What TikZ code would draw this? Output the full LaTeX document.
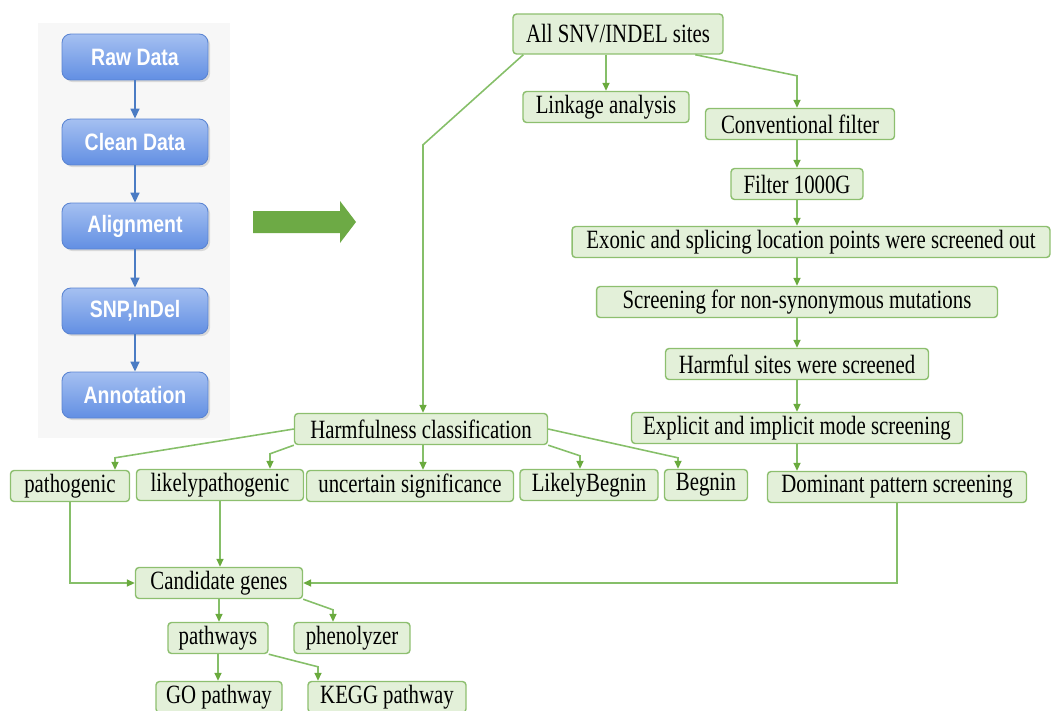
\documentclass[tikz,border=0pt]{standalone}
\usepackage{fontspec}
\setmainfont{Liberation Serif}[FakeStretch=0.79]
\newfontfamily\sansflujo{Liberation Sans}[FakeStretch=0.82]
\usepackage{xcolor}
\definecolor{verdeFondo}{HTML}{E3F0D9}
\definecolor{verdeBorde}{HTML}{8DBF6F}
\definecolor{verdeLinea}{HTML}{86BF69}
\definecolor{verdePunta}{HTML}{6AAA3E}
\definecolor{verdeFlecha}{HTML}{6DAA45}
\definecolor{azulClaro}{HTML}{A5C0F1}
\definecolor{azulOscuro}{HTML}{628FE3}
\definecolor{azulBorde}{HTML}{5A84D2}
\definecolor{azulLinea}{HTML}{4B7CC4}
\definecolor{grisPanel}{HTML}{F7F7F7}
\usepackage{tikz}
\usetikzlibrary{arrows.meta,calc,shadows}

\begin{document}
\begin{tikzpicture}[x=0.02cm, y=-0.02cm,
      caja/.style={rectangle, rounded corners=2pt, draw=verdeBorde, fill=verdeFondo, line width=0.8pt,
                   minimum height=0.62cm, inner sep=1pt, align=center,
                   font=\fontsize{15}{17}\selectfont},
      cajaazul/.style={rectangle, rounded corners=5pt, draw=azulBorde, line width=0.5pt,
                   top color=azulClaro, bottom color=azulOscuro,
                   drop shadow={opacity=0.25, shadow xshift=1.2pt, shadow yshift=-1.2pt},
                   minimum width=2.92cm, minimum height=0.92cm, text=white,
                   font=\sansflujo\bfseries\fontsize{13.5}{15}\selectfont},
      flecha/.style={-{Triangle[length=1.6mm, width=1.4mm, color=verdePunta]}, line width=0.9pt, draw=verdeLinea},
      flechaazul/.style={-{Triangle[length=2mm, width=1.8mm]}, line width=0.9pt, draw=azulLinea}
    ]
    \useasboundingbox (0,0) rectangle (1053,710);

    % panel izquierdo
    \fill[grisPanel] (38,23) rectangle (230,438);
    \node[cajaazul] (raw) at (135,57) {Raw Data};
    \node[cajaazul] (clean) at (135,142) {Clean Data};
    \node[cajaazul] (align) at (135,226) {Alignment};
    \node[cajaazul] (snp) at (135,311) {SNP,InDel};
    \node[cajaazul] (annot) at (135,395) {Annotation};
    \foreach \a/\b in {raw/clean, clean/align, align/snp, snp/annot}
      \draw[flechaazul] (\a) -- (\b);

    % flecha grande
    \fill[verdeFlecha] (253,211) -- (340,211) -- (340,201) -- (356,222) -- (340,243) -- (340,233) -- (253,233) -- cycle;

    % rama derecha
    \node[caja, minimum width=4.2cm, minimum height=0.8cm] (allsites) at (618,34) {All SNV/INDEL sites};
    \node[caja, minimum width=3.32cm] (linkage) at (606,107) {Linkage analysis};
    \node[caja, minimum width=3.78cm] (conv) at (800,124) {Conventional filter};
    \node[caja, minimum width=2.64cm] (filt) at (797,184) {Filter 1000G};
    \node[caja, minimum width=9.56cm] (exon) at (811,242) {Exonic and splicing location points were screened out};
    \node[caja, minimum width=8.02cm] (nonsyn) at (797,302) {Screening for non-synonymous mutations};
    \node[caja, minimum width=5.26cm] (hsites) at (797,364) {Harmful sites were screened};
    \node[caja, minimum width=6.62cm] (expl) at (797,428) {Explicit and implicit mode screening};
    \node[caja, minimum width=5.18cm] (dom) at (897,487) {Dominant pattern screening};

    % clasificacion
    \node[caja, minimum width=5.06cm] (harm) at (421,429) {Harmfulness classification};
    \node[caja, minimum width=2.38cm] (patho) at (70,486) {pathogenic};
    \node[caja, minimum width=3.34cm] (likely) at (220,485) {likelypathogenic};
    \node[caja, minimum width=4.14cm] (uncert) at (410,486) {uncertain significance};
    \node[caja, minimum width=2.76cm] (lbeg) at (589,485) {LikelyBegnin};
    \node[caja, minimum width=1.66cm] (beg) at (706,485) {Begnin};

    % genes
    \node[caja, minimum width=3.34cm] (cand) at (219,583) {Candidate genes};
    \node[caja, minimum width=2.0cm] (paths) at (218,638) {pathways};
    \node[caja, minimum width=2.32cm] (pheno) at (352,638) {phenolyzer};
    \node[caja, minimum width=2.52cm] (go) at (219,697) {GO pathway};
    \node[caja, minimum width=3.16cm] (kegg) at (387,697) {KEGG pathway};

    % conectores
    \draw[flecha] (linkage |- allsites.south) -- (linkage.north);
    \draw[flecha] (allsites.-15.5) -- ($(conv.north)+(-3,-32)$) -- ($(conv.north)+(-3,0)$);
    \draw[flecha] ($(allsites.south west)+(11,0)$) -- ($(harm.north)+(2,-268)$) -- ($(harm.north)+(2,0)$);
    \foreach \a/\b in {conv/filt, filt/exon, exon/nonsyn, nonsyn/hsites, hsites/expl, expl/dom}
      \draw[flecha] (\a.south -| filt) -- (\b.north -| filt);
    \draw[flecha] (dom.south) -- (dom.south |- cand) -- (cand.east);
    \draw[flecha] (patho.south) -- (patho.south |- cand) -- (cand.west);
    \draw[flecha] (likely.south) -- (likely.south |- cand.north);

    \draw[flecha] (harm.west) -- ($(patho.north)+(45,-12)$) -- ($(patho.north)+(45,0)$);
    \draw[flecha] (harm.south west) -- ($(likely.north)+(50,-15)$) -- ($(likely.north)+(50,0)$);
    \draw[flecha] ($(harm.south)+(2,0)$) -- ($(harm.south |- uncert.north)+(2,0)$);
    \draw[flecha] (harm.south east) -- ($(lbeg.north)+(-9,-13)$) -- ($(lbeg.north)+(-9,0)$);
    \draw[flecha] (harm.east) -- ($(beg.north)+(-28,-11)$) -- ($(beg.north)+(-28,0)$);

    \draw[flecha] (cand.south) -- (cand.south |- paths.north);
    \draw[flecha] (cand.south east) -- ($(pheno.north)+(-19,-12)$) -- ($(pheno.north)+(-19,0)$);
    \draw[flecha] (paths.south) -- (paths.south |- go.north);
    \draw[flecha] (paths.south east) -- ($(kegg.north)+(-69,-14)$) -- ($(kegg.north)+(-69,0)$);
  \end{tikzpicture}
\end{document}
